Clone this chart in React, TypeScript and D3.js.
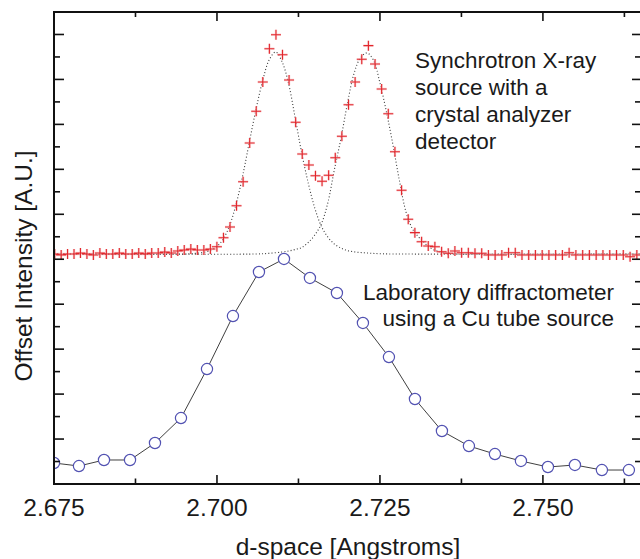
import React from "react";
import * as d3 from "d3";

// Synchrotron scan (crystal analyzer), offset above the laboratory scan
const synchD = [
  2.67511, 2.6761, 2.67708, 2.67807, 2.67906, 2.68005, 2.68104, 2.68204, 2.68303, 2.68402,
  2.68502, 2.68601, 2.687, 2.688, 2.689, 2.68999, 2.69099, 2.69199, 2.69299, 2.69399,
  2.69498, 2.69599, 2.69699, 2.69799, 2.69899, 2.69999, 2.701, 2.702, 2.703, 2.70401,
  2.70502, 2.70602, 2.70703, 2.70804, 2.70905, 2.71005, 2.71106, 2.71207, 2.71308, 2.7141,
  2.71511, 2.71612, 2.71713, 2.71815, 2.71916, 2.72018, 2.72119, 2.72221, 2.72323, 2.72425,
  2.72526, 2.72628, 2.7273, 2.72832, 2.72934, 2.73036, 2.73139, 2.73241, 2.73343, 2.73446,
  2.73548, 2.7365, 2.73753, 2.73856, 2.73958, 2.74061, 2.74164, 2.74267, 2.7437, 2.74473,
  2.74576, 2.74679, 2.74782, 2.74885, 2.74989, 2.75092, 2.75195, 2.75299, 2.75402, 2.75506,
  2.7561, 2.75713, 2.75817, 2.75921, 2.76025, 2.76129, 2.76233, 2.76337, 2.76441, 2.76546,
];
const synchI = [
  5.117, 5.094, 5.117, 5.117, 5.139, 5.117, 5.094, 5.139, 5.117, 5.117,
  5.139, 5.117, 5.117, 5.139, 5.117, 5.139, 5.139, 5.161, 5.139, 5.183,
  5.206, 5.228, 5.206, 5.206, 5.228, 5.279, 5.479, 5.717, 6.191, 6.725,
  7.586, 8.291, 8.943, 9.684, 9.995, 9.55, 8.987, 8.046, 7.341, 7.097,
  6.858, 6.734, 6.867, 7.259, 7.735, 8.438, 8.943, 9.448, 9.751, 9.343,
  8.787, 8.238, 7.392, 6.534, 5.889, 5.591, 5.39, 5.295, 5.279, 5.168,
  5.132, 5.183, 5.146, 5.146, 5.132, 5.132, 5.094, 5.094, 5.094, 5.146,
  5.146, 5.094, 5.094, 5.094, 5.094, 5.094, 5.094, 5.094, 5.146, 5.094,
  5.094, 5.094, 5.094, 5.094, 5.094, 5.094, 5.094, 5.057, 5.094, 5.094,
];

// Fitted component peaks (dotted)
const fitAD = [
  2.675, 2.695, 2.696, 2.697, 2.698, 2.699, 2.7, 2.701, 2.702, 2.703, 2.704, 2.705, 2.706,
  2.707, 2.708, 2.709, 2.71, 2.711, 2.712, 2.713, 2.714, 2.715, 2.716, 2.717, 2.718, 2.719,
  2.72, 2.721, 2.722, 2.723, 2.724, 2.725, 2.727, 2.7652,
];
const fitAI = [
  5.117, 5.117, 5.125, 5.134, 5.154, 5.199, 5.283, 5.461, 5.773, 6.262, 6.896, 7.63, 8.342,
  8.965, 9.432, 9.61, 9.388, 8.898, 8.142, 7.363, 6.696, 6.14, 5.739, 5.495, 5.339, 5.25,
  5.194, 5.165, 5.15, 5.139, 5.13, 5.123, 5.117, 5.117,
];
const fitBD = [
  2.675, 2.706, 2.708, 2.71, 2.711, 2.712, 2.713, 2.714, 2.715, 2.716, 2.717, 2.718, 2.719,
  2.72, 2.721, 2.722, 2.723, 2.724, 2.725, 2.726, 2.727, 2.728, 2.729, 2.73, 2.731, 2.732,
  2.733, 2.734, 2.735, 2.736, 2.737, 2.7652,
];
const fitBI = [
  5.117, 5.117, 5.132, 5.161, 5.183, 5.217, 5.261, 5.372, 5.539, 5.784, 6.251, 6.985, 7.675,
  8.453, 9.121, 9.477, 9.588, 9.432, 8.921, 8.275, 7.541, 6.741, 6.051, 5.673, 5.484, 5.339,
  5.228, 5.172, 5.139, 5.128, 5.117, 5.117,
];

// Laboratory diffractometer scan (Cu tube)
const labD = [
  2.675, 2.67883, 2.68267, 2.68666, 2.69049, 2.69448, 2.69847, 2.70245, 2.70644, 2.71028,
  2.71426, 2.7184, 2.72239, 2.72638, 2.73037, 2.73451, 2.73865, 2.74264, 2.74663, 2.75077,
  2.75491, 2.75905, 2.76319,
];
const labI = [
  0.467, 0.4, 0.534, 0.534, 0.912, 1.468, 2.558, 3.737, 4.716, 5.006, 4.583, 4.249, 3.582,
  2.825, 1.891, 1.179, 0.845, 0.667, 0.512, 0.378, 0.423, 0.311, 0.311,
];

const xMajorTicks = [2.675, 2.7, 2.725, 2.75];
const xTickLabels = ["2.675", "2.700", "2.725", "2.750"];
const xMinorTicks = [2.6875, 2.7125, 2.7375, 2.7625];
const yMajorTicks = [1, 2, 3, 4, 5, 6, 7, 8, 9, 10];
const yMinorTicks = [0.5, 1.5, 2.5, 3.5, 4.5, 5.5, 6.5, 7.5, 8.5, 9.5];

const synchNote = ["Synchrotron X-ray", "source with a", "crystal analyzer", "detector"];
const labNote = ["Laboratory diffractometer", "using a Cu tube source"];

const FONT = "'Liberation Sans', Arial, Helvetica, sans-serif";
const INK = "#1a1a1a";

export default function App() {
  const x = d3.scaleLinear().domain([2.675, 2.7652]).range([54, 642]);
  const y = d3.scaleLinear().domain([0, 10.5]).range([484, 12]);
  const [x0, x1] = x.range();
  const [y0, y1] = y.range();

  const line = d3
    .line<[number, number]>()
    .x((p) => x(p[0]))
    .y((p) => y(p[1]));
  const smooth = d3
    .line<[number, number]>()
    .x((p) => x(p[0]))
    .y((p) => y(p[1]))
    .curve(d3.curveCatmullRom.alpha(0.5));

  const fitA = smooth(fitAD.map((d, i) => [d, fitAI[i]])) || "";
  const fitB = smooth(fitBD.map((d, i) => [d, fitBI[i]])) || "";
  const labPts: [number, number][] = labD.map((d, i) => [d, labI[i]]);
  const labPath = line(labPts) || "";

  const arm = 5;
  const crossPath = synchD
    .map((d, i) => {
      const cx = x(d);
      const cy = y(synchI[i]);
      return `M${cx - arm},${cy}h${2 * arm}M${cx},${cy - arm}v${2 * arm}`;
    })
    .join("");

  const midX = (x0 + x1) / 2;

  return (
    <svg
      width={640}
      height={559}
      viewBox="0 0 640 559"
      style={{ position: "absolute", left: 0, top: 0, background: "#fff" }}
      fontFamily={FONT}
    >
      <defs>
        <clipPath id="plotArea">
          <rect x={x0} y={y1} width={x1 - x0} height={y0 - y1} />
        </clipPath>
      </defs>
      <rect x={0} y={0} width={640} height={559} fill="#fff" />

      <g clipPath="url(#plotArea)">
        {/* fitted components */}
        <path d={fitA} fill="none" stroke="#3a3a3a" strokeWidth={1.1} strokeDasharray="1 2.2" />
        <path d={fitB} fill="none" stroke="#3a3a3a" strokeWidth={1.1} strokeDasharray="1 2.2" />

        {/* synchrotron data */}
        <path d={crossPath} fill="none" stroke="#f4b4b6" strokeWidth={2.4} opacity={0.55} />
        <path d={crossPath} fill="none" stroke="#e2262c" strokeWidth={1.1} />

        {/* laboratory data */}
        <path d={labPath} fill="none" stroke="#2a2a2a" strokeWidth={0.9} />
        {labPts.map((p, i) => (
          <circle
            key={i}
            cx={x(p[0])}
            cy={y(p[1])}
            r={5.6}
            fill="#fff"
            stroke="#5252b2"
            strokeWidth={1.2}
          />
        ))}
      </g>

      {/* frame */}
      <rect x={x0} y={y1} width={x1 - x0} height={y0 - y1} fill="none" stroke="#111" strokeWidth={2} />

      {/* x ticks, bottom and top */}
      {xMajorTicks.map((t) => (
        <g key={"xM" + t} stroke="#111" strokeWidth={1.6}>
          <line x1={x(t)} x2={x(t)} y1={y0} y2={y0 - 9} />
          <line x1={x(t)} x2={x(t)} y1={y1} y2={y1 + 9} />
        </g>
      ))}
      {xMinorTicks.map((t) => (
        <g key={"xm" + t} stroke="#111" strokeWidth={1.6}>
          <line x1={x(t)} x2={x(t)} y1={y0} y2={y0 - 5.5} />
          <line x1={x(t)} x2={x(t)} y1={y1} y2={y1 + 5} />
        </g>
      ))}
      {/* y ticks, left and right */}
      {yMajorTicks.map((t) => (
        <g key={"yM" + t} stroke="#111" strokeWidth={1.6}>
          <line x1={x0} x2={x0 + 10} y1={y(t)} y2={y(t)} />
          <line x1={x1} x2={x1 - 10} y1={y(t)} y2={y(t)} />
        </g>
      ))}
      {yMinorTicks.map((t) => (
        <g key={"ym" + t} stroke="#111" strokeWidth={1.6}>
          <line x1={x0} x2={x0 + 6} y1={y(t)} y2={y(t)} />
          <line x1={x1} x2={x1 - 7} y1={y(t)} y2={y(t)} />
        </g>
      ))}

      {/* tick labels */}
      {xMajorTicks.map((t, i) => (
        <text key={"xl" + t} x={x(t)} y={516} textAnchor="middle" fontSize={24.5} fill={INK}>
          {xTickLabels[i]}
        </text>
      ))}

      {/* axis titles */}
      <text x={midX} y={555} textAnchor="middle" fontSize={24.5} fill={INK}>
        d-space [Angstroms]
      </text>
      <text
        transform="translate(31.5,266) rotate(-90)"
        textAnchor="middle"
        fontSize={24.5}
        fill={INK}
      >
        Offset Intensity [A.U.]
      </text>

      {/* annotations */}
      {synchNote.map((s, i) => (
        <text key={"sn" + i} x={415} y={67.5 + i * 27} fontSize={22.5} fill={INK}>
          {s}
        </text>
      ))}
      {labNote.map((s, i) => (
        <text key={"ln" + i} x={614} y={300 + i * 25.5} textAnchor="end" fontSize={22.5} fill={INK}>
          {s}
        </text>
      ))}
    </svg>
  );
}
